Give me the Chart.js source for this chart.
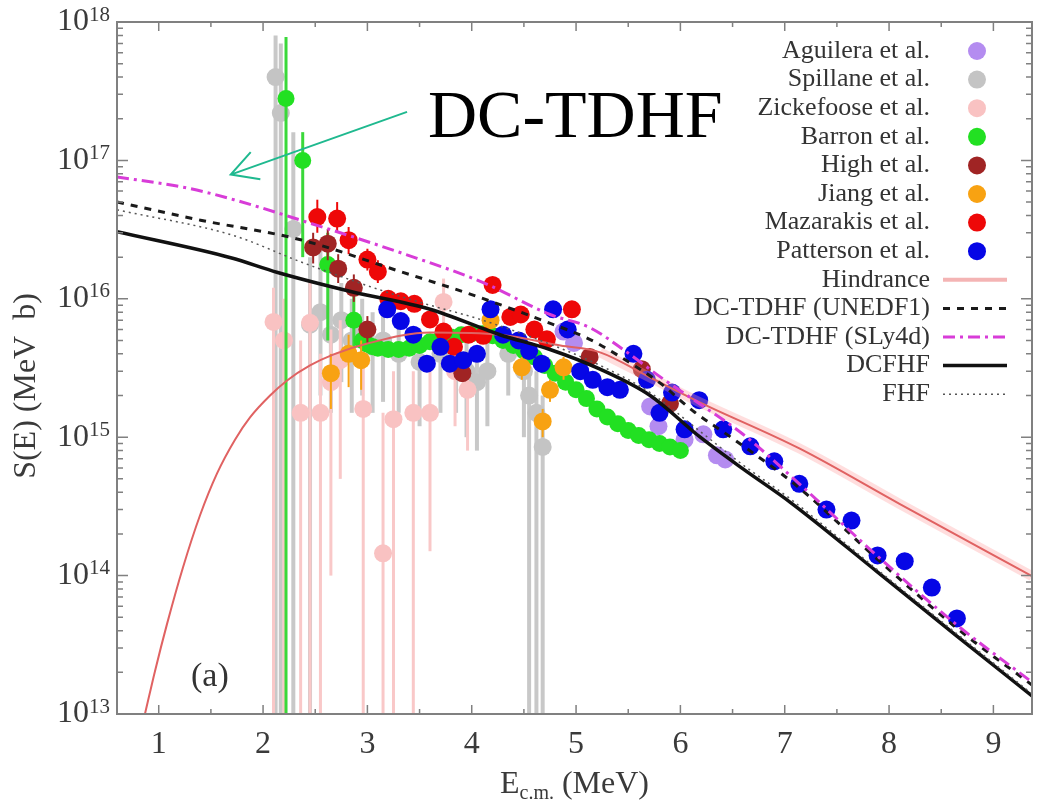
<!DOCTYPE html>
<html>
<head>
<meta charset="utf-8">
<title>S(E)</title>
<script src="https://cdn.jsdelivr.net/npm/chart.js@4.4.1/dist/chart.umd.min.js"></script>
<style>
    html, body { margin: 0; padding: 0; background: #fff; }
    canvas { display: block; }
</style>
</head>
<body>
<canvas id="grafica-se" width="1045" height="806"></canvas>
<script>
// Ejes
const xTicks = [1, 2, 3, 4, 5, 6, 7, 8, 9];
const yExponentes = [13, 14, 15, 16, 17, 18];

// Datos experimentales: E (MeV), S (MeV b), barras de error
const aguileraE = [4.88, 4.98, 5.71, 5.79, 6.04, 6.22, 6.35, 6.43];
const aguileraS = [5.8e15, 4.8e15, 1.67e15, 1.2e15, 9.6e14, 1.05e15, 7.4e14, 6.9e14];

const spillaneE = [2.12, 2.17, 2.29, 2.45, 2.55, 2.65, 2.75, 2.85, 2.95, 3.05, 3.15, 3.3, 3.5, 3.7, 3.85, 3.95, 4.05, 4.15, 4.35, 4.5, 4.55, 4.62, 4.68];
const spillaneS = [4.0e17, 2.2e17, 3.2e16, 6.5e15, 8.0e15, 5.5e15, 7.0e15, 5.0e15, 6.0e15, 4.5e15, 5.0e15, 4.0e15, 3.5e15, 4.0e15, 3.5e15, 3.0e15, 2.5e15, 3.0e15, 4.0e15, 3.0e15, 2.0e15, 1.5e15, 8.5e14];
const spillaneLo = [5e12, 5e12, 5e12, 5e12, 2e15, 1.5e15, 2.5e15, 1.5e15, 2e15, 1.5e15, 1.8e15, 1.5e15, 1.2e15, 1.5e15, 1.5e15, 1e15, 8e14, 1.2e15, 2e15, 1e15, 5e12, 5e12, 5e12];
const spillaneHi = [8e17, 7e17, 1.6e17, 2e16, 2.5e16, 1.2e16, 1.3e16, 1e16, 1e16, 8e15, 8e15, 7e15, 6e15, 6e15, 5.5e15, 5e15, 4.5e15, 5e15, 6e15, 5e15, 4e15, 3e15, 2e15];

const zickefooseE = [2.10, 2.20, 2.36, 2.45, 2.55, 2.65, 2.74, 2.96, 3.15, 3.25, 3.44, 3.60, 3.73, 3.84, 3.96];
const zickefooseS = [6.8e15, 5.0e15, 1.5e15, 6.7e15, 1.5e15, 2.5e15, 3.6e15, 1.6e15, 1.45e14, 1.35e15, 1.5e15, 1.5e15, 9.5e15, 3.0e15, 2.2e15];
const zickefooseLo = [5e12, 5e12, 5e12, 5e12, 5e12, 1e14, 5e14, 5e12, 5e12, 5e12, 5e12, 1.5e14, 5e15, 1.2e15, 8e14];
const zickefooseHi = [1.2e16, 1e16, 5e15, 1.3e16, 4e15, 6e15, 7e15, 4e15, 1.5e15, 3e15, 3e15, 3e15, 1.4e16, 5e15, 4e15];

const barronE = [2.22, 2.38, 2.62, 2.87, 2.95, 3.0, 3.05, 3.1, 3.2, 3.3, 3.4, 3.5, 3.6, 3.7, 3.8, 3.9, 4.0, 4.1, 4.2, 4.3, 4.4, 4.5, 4.6, 4.7, 4.8, 4.9, 5.0, 5.1, 5.2, 5.3, 5.4, 5.5, 5.6, 5.7, 5.8, 5.9, 6.0];
const barronS = [2.8e17, 1.0e17, 1.77e16, 7.0e15, 5.0e15, 4.7e15, 4.5e15, 4.4e15, 4.3e15, 4.3e15, 4.4e15, 4.6e15, 4.9e15, 5.1e15, 5.3e15, 5.5e15, 5.6e15, 5.6e15, 5.4e15, 5.0e15, 4.6e15, 4.2e15, 3.8e15, 3.3e15, 2.9e15, 2.5e15, 2.2e15, 1.9e15, 1.6e15, 1.4e15, 1.25e15, 1.12e15, 1.03e15, 9.6e14, 9.0e14, 8.5e14, 8.0e14];
const barronLo = [5e12, 2e16, 5e15, 4e15];
const barronHi = [7.8e17, 1.6e17, 3e16, 1.2e16];

const highE = [2.48, 2.62, 2.72, 2.87, 3.0, 3.91, 5.13, 5.63, 5.9];
const highS = [2.35e16, 2.5e16, 1.65e16, 1.2e16, 6.0e15, 2.9e15, 3.8e15, 3.1e15, 1.75e15];
const highLo = [1.8e16, 1.9e16, 1.3e16, 9.5e15, 4.8e15];
const highHi = [3.0e16, 3.2e16, 2.1e16, 1.5e16, 7.5e15];

const jiangE = [2.65, 2.82, 2.94, 4.18, 4.48, 4.68, 4.75, 4.88];
const jiangS = [2.9e15, 4.0e15, 3.6e15, 7.0e15, 3.2e15, 1.3e15, 2.2e15, 3.2e15];
const jiangLo = [1.6e15, 2.3e15, 2.2e15, null, 2.6e15, 1.0e15, 1.8e15, 2.6e15];
const jiangHi = [4.0e15, 5.5e15, 5.0e15, null, 3.8e15, 1.6e15, 2.6e15, 3.8e15];

const mazarakisE = [2.52, 2.71, 2.82, 3.0, 3.1, 3.2, 3.32, 3.45, 3.6, 3.73, 3.83, 3.97, 4.11, 4.2, 4.37, 4.47, 4.6, 4.72, 4.96];
const mazarakisS = [3.9e16, 3.8e16, 2.65e16, 1.92e16, 1.57e16, 1.0e16, 9.6e15, 9.2e15, 7.1e15, 5.8e15, 4.5e15, 5.5e15, 5.4e15, 1.26e16, 7.4e15, 7.7e15, 6.0e15, 5.1e15, 8.4e15];
const mazarakisLo = [3.0e16, 3.0e16, 2.1e16, 1.6e16, 1.3e16];
const mazarakisHi = [5.2e16, 5.0e16, 3.3e16, 2.3e16, 1.9e16];

const pattersonE = [3.19, 3.32, 3.44, 3.57, 3.70, 3.79, 3.92, 4.05, 4.18, 4.30, 4.45, 4.55, 4.67, 4.78, 4.92, 5.04, 5.16, 5.30, 5.42, 5.55, 5.68, 5.80, 5.92, 6.04, 6.18, 6.41, 6.67, 6.90, 7.14, 7.40, 7.64, 7.89, 8.15, 8.41, 8.65];
const pattersonS = [8.4e15, 6.9e15, 5.5e15, 3.4e15, 4.5e15, 3.4e15, 3.6e15, 4.0e15, 8.4e15, 5.5e15, 5.0e15, 4.2e15, 3.4e15, 8.4e15, 6.0e15, 3.0e15, 2.6e15, 2.3e15, 2.2e15, 4.0e15, 2.6e15, 1.5e15, 2.1e15, 1.14e15, 1.85e15, 1.14e15, 8.6e14, 6.7e14, 4.6e14, 3.0e14, 2.5e14, 1.4e14, 1.27e14, 8.2e13, 4.9e13];

// Curvas teoricas
const hindranceE = [0.868, 0.964, 1.079, 1.233, 1.396, 1.559, 1.731, 1.875, 2.067, 2.23, 2.45, 2.671, 3.0, 3.6, 4.27, 4.85, 5.23, 5.71, 6.19, 7.14, 8.1, 9.37];
const hindranceS = [1.0e13, 2.04e13, 4.46e13, 1.15e14, 2.73e14, 5.48e14, 9.6e14, 1.39e15, 2.0e15, 2.57e15, 3.3e15, 3.95e15, 4.75e15, 5.7e15, 5.5e15, 4.6e15, 4.1e15, 2.7e15, 1.78e15, 8.3e14, 3.3e14, 9.9e13];

const unedf1E = [0.6, 1.4, 2.36, 3.32, 4.05, 4.68, 5.13, 5.39, 5.8, 6.12, 6.5, 7.14, 7.89, 8.65, 9.37];
const unedf1S = [5.0e16, 3.7e16, 2.67e16, 1.57e16, 1.04e16, 6.97e15, 5.1e15, 3.95e15, 2.48e15, 1.55e15, 9.8e14, 4.3e14, 1.31e14, 4.17e13, 1.62e13];

const sly4dE = [0.6, 1.28, 1.72, 2.36, 3.32, 4.11, 4.75, 5.13, 5.49, 5.8, 6.19, 6.6, 7.14, 7.89, 8.65, 9.37];
const sly4dS = [7.6e16, 6.3e16, 5.2e16, 3.7e16, 2.15e16, 1.31e16, 7.7e15, 6.2e15, 4.1e15, 2.75e15, 1.73e15, 1.05e15, 4.6e14, 1.38e14, 4.4e13, 1.7e13];

const dcfhfE = [0.6, 1.69, 2.14, 2.84, 3.6, 4.27, 4.75, 5.23, 5.71, 6.19, 6.6, 7.05, 7.89, 8.65, 9.37];
const dcfhfS = [3.05e16, 1.98e16, 1.55e16, 1.13e16, 8.4e15, 5.5e15, 4.3e15, 3.1e15, 2.0e15, 1.0e15, 5.9e14, 3.4e14, 1.06e14, 3.66e13, 1.35e13];

const fhfE = [0.6, 1.72, 2.36, 3.12, 3.51, 4.08, 4.75, 5.23, 5.71, 6.19, 6.6, 7.05, 7.89, 8.65, 9.37];
const fhfS = [4.4e16, 2.86e16, 1.85e16, 1.16e16, 9.4e15, 7.1e15, 4.7e15, 3.3e15, 2.1e15, 1.1e15, 6.3e14, 3.6e14, 1.1e14, 3.8e13, 1.4e13];

// Anotacion (coordenadas de datos)
const flechaDesde = { x: 3.38, y: 2.24e17 };
const flechaHasta = { x: 1.69, y: 7.9e16 };
const textoAnotacion = { x: 3.58, y: 1.48e17, texto: "DC-TDHF" };
const etiquetaPanel = { x: 1.49, y: 1.85e13, texto: "(a)" };

const serif = '"Liberation Serif", "Times New Roman", serif';

function puntos(xs, ys) {
    return xs.map((x, i) => ({ x: x, y: ys[i] }));
}

function serieDatos(label, xs, ys, color, orden, lo, hi, colorBarra, anchoBarra, radio) {
    return {
        label: label,
        data: puntos(xs, ys),
        showLine: false,
        pointRadius: radio || 9,
        pointHoverRadius: radio || 9,
        pointBackgroundColor: color,
        pointBorderWidth: 0,
        order: orden,
        errLo: lo || null,
        errHi: hi || null,
        errColor: colorBarra,
        errWidth: anchoBarra,
        simbolo: "punto",
        colorLeyenda: color
    };
}

function serieCurva(label, xs, ys, color, ancho, dash, orden, colorLeyenda, anchoLeyenda) {
    return {
        label: label,
        data: puntos(xs, ys),
        showLine: true,
        pointRadius: 0,
        pointHoverRadius: 0,
        borderColor: color,
        borderWidth: ancho,
        borderDash: dash,
        cubicInterpolationMode: "monotone",
        order: orden,
        simbolo: label ? "linea" : null,
        colorLeyenda: colorLeyenda || color,
        anchoLeyenda: anchoLeyenda || ancho
    };
}

// Barras de error, dibujadas justo antes de los puntos de cada serie
const barrasError = {
    id: "barrasError",
    beforeDatasetDraw(chart, args) {
        const ds = chart.data.datasets[args.index];
        if (!ds.errLo) return;
        const { ctx, chartArea: a, scales: { x, y } } = chart;
        ctx.save();
        ctx.beginPath();
        ctx.rect(a.left, a.top, a.right - a.left, a.bottom - a.top);
        ctx.clip();
        ctx.strokeStyle = ds.errColor;
        ctx.lineWidth = ds.errWidth;
        ds.data.forEach((p, i) => {
            const lo = ds.errLo[i], hi = ds.errHi[i];
            if (lo == null || hi == null) return;
            const px = x.getPixelForValue(p.x);
            ctx.beginPath();
            ctx.moveTo(px, y.getPixelForValue(lo));
            ctx.lineTo(px, y.getPixelForValue(hi));
            ctx.stroke();
        });
        ctx.restore();
    }
};

// Marco, marcas hacia dentro, etiquetas y anotacion
const marco = {
    id: "marco",
    afterDatasetsDraw(chart) {
        const { ctx, chartArea: a, scales: { x, y } } = chart;
        ctx.save();

        // flecha y texto grande
        const x0 = x.getPixelForValue(flechaDesde.x), y0 = y.getPixelForValue(flechaDesde.y);
        const x1 = x.getPixelForValue(flechaHasta.x), y1 = y.getPixelForValue(flechaHasta.y);
        const ang = Math.atan2(y1 - y0, x1 - x0);
        ctx.strokeStyle = "#1fb98f";
        ctx.lineWidth = 2;
        ctx.beginPath();
        ctx.moveTo(x0, y0);
        ctx.lineTo(x1, y1);
        ctx.moveTo(x1 - 30 * Math.cos(ang - 0.5), y1 - 30 * Math.sin(ang - 0.5));
        ctx.lineTo(x1, y1);
        ctx.lineTo(x1 - 30 * Math.cos(ang + 0.5), y1 - 30 * Math.sin(ang + 0.5));
        ctx.stroke();

        ctx.fillStyle = "#000";
        ctx.font = "68px " + serif;
        ctx.textAlign = "left";
        ctx.textBaseline = "alphabetic";
        ctx.fillText(textoAnotacion.texto, x.getPixelForValue(textoAnotacion.x), y.getPixelForValue(textoAnotacion.y));

        ctx.fillStyle = "#333";
        ctx.font = "34px " + serif;
        ctx.textAlign = "center";
        ctx.textBaseline = "middle";
        ctx.fillText(etiquetaPanel.texto, x.getPixelForValue(etiquetaPanel.x), y.getPixelForValue(etiquetaPanel.y));

        // marco
        ctx.strokeStyle = "#808080";
        ctx.lineWidth = 2;
        ctx.strokeRect(a.left, a.top, a.right - a.left, a.bottom - a.top);

        ctx.lineWidth = 1.5;
        ctx.beginPath();
        for (let v = 1; v <= 9; v += 0.5) {
            const px = x.getPixelForValue(v);
            const largo = Number.isInteger(v) ? 9 : 5;
            ctx.moveTo(px, a.bottom); ctx.lineTo(px, a.bottom - largo);
            ctx.moveTo(px, a.top); ctx.lineTo(px, a.top + largo);
        }
        yExponentes.forEach(e => {
            for (let m = 1; m <= 9; m++) {
                if (e === 18 && m > 1) break;
                const py = y.getPixelForValue(m * Math.pow(10, e));
                const largo = m === 1 ? 11 : 6;
                ctx.moveTo(a.left, py); ctx.lineTo(a.left + largo, py);
                ctx.moveTo(a.right, py); ctx.lineTo(a.right - largo, py);
            }
        });
        ctx.stroke();

        // etiquetas eje x
        ctx.fillStyle = "#3a3a3a";
        ctx.font = "32px " + serif;
        ctx.textAlign = "center";
        ctx.textBaseline = "middle";
        xTicks.forEach(v => ctx.fillText(String(v), x.getPixelForValue(v), a.bottom + 31));

        // etiquetas eje y: 10 con exponente
        yExponentes.forEach(e => {
            const py = y.getPixelForValue(Math.pow(10, e));
            ctx.font = "21px " + serif;
            ctx.textAlign = "right";
            ctx.fillText(String(e), a.left - 7, py - 7);
            const w = ctx.measureText(String(e)).width;
            ctx.font = "32px " + serif;
            ctx.fillText("10", a.left - 7 - w, py);
        });

        // titulo eje x con subindice
        const cx = (a.left + a.right) / 2, cy = a.bottom + 71;
        ctx.textAlign = "left";
        ctx.font = "32px " + serif;
        const wE = ctx.measureText("E").width;
        const wMeV = ctx.measureText(" (MeV)").width;
        ctx.font = "20px " + serif;
        const wSub = ctx.measureText("c.m.").width;
        let px = cx - (wE + wSub + wMeV) / 2;
        ctx.font = "32px " + serif;
        ctx.fillText("E", px, cy);
        px += wE;
        ctx.font = "20px " + serif;
        ctx.fillText("c.m.", px, cy + 9);
        px += wSub;
        ctx.font = "32px " + serif;
        ctx.fillText(" (MeV)", px, cy);

        // titulo eje y
        ctx.translate(27, 386);
        ctx.rotate(-Math.PI / 2);
        ctx.textAlign = "center";
        ctx.fillText("S(E) (MeV  b)", 0, 0);
        ctx.restore();
    }
};

// Leyenda a la derecha, texto alineado a la derecha y simbolo despues
const leyenda = {
    id: "leyenda",
    afterDraw(chart) {
        const { ctx, chartArea: a } = chart;
        ctx.save();
        ctx.font = "26px " + serif;
        ctx.textAlign = "right";
        ctx.textBaseline = "middle";
        chart.data.datasets.filter(d => d.simbolo).forEach((d, i) => {
            const yy = a.top + 29 + i * 28.6;
            ctx.fillStyle = "#333";
            ctx.fillText(d.label, a.right - 102, yy);
            if (d.simbolo === "punto") {
                ctx.fillStyle = d.colorLeyenda;
                ctx.beginPath();
                ctx.arc(a.right - 55, yy, 9, 0, 2 * Math.PI);
                ctx.fill();
            } else {
                ctx.strokeStyle = d.colorLeyenda;
                ctx.lineWidth = d.anchoLeyenda;
                ctx.setLineDash(d.borderDash || []);
                ctx.beginPath();
                ctx.moveTo(a.right - 89, yy);
                ctx.lineTo(a.right - 25, yy);
                ctx.stroke();
                ctx.setLineDash([]);
            }
        });
        ctx.restore();
    }
};

const datasets = [
    serieDatos("Aguilera et al.", aguileraE, aguileraS, "#b48cf0", 20),
    serieDatos("Spillane et al.", spillaneE, spillaneS, "#c4c4c4", 19, spillaneLo, spillaneHi, "#c8c8c8", 4),
    serieDatos("Zickefoose et al.", zickefooseE, zickefooseS, "#f9c2c2", 18, zickefooseLo, zickefooseHi, "#f9c8c8", 3),
    serieDatos("Barron et al.", barronE, barronS, "#22e022", 17, barronLo, barronHi, "#3ad83a", 3, 8.5),
    serieDatos("High et al.", highE, highS, "#a02424", 16, highLo, highHi, "#a02424", 2),
    serieDatos("Jiang et al.", jiangE, jiangS, "#f8a212", 15, jiangLo, jiangHi, "#f8a212", 2),
    serieDatos("Mazarakis et al.", mazarakisE, mazarakisS, "#ee0808", 14, mazarakisLo, mazarakisHi, "#ee0808", 2),
    serieDatos("Patterson et al.", pattersonE, pattersonS, "#0606e6", 13),
    serieCurva("Hindrance", hindranceE, hindranceS, "#e06262", 2, [], 12, "#f4b4b4", 4),
    serieCurva("DC-TDHF (UNEDF1)", unedf1E, unedf1S, "#1a1a1a", 3, [7, 7], 11),
    serieCurva("DC-TDHF (SLy4d)", sly4dE, sly4dS, "#d83cd8", 3, [12, 5, 3, 5], 10),
    serieCurva("DCFHF", dcfhfE, dcfhfS, "#111111", 3.5, [], 9),
    serieCurva("FHF", fhfE, fhfS, "#555555", 1.5, [2, 4], 8),
    // banda de incertidumbre del Hindrance
    serieCurva(null, hindranceE.slice(16), hindranceS.slice(16), "rgba(255,160,160,0.35)", 10, [], 12.5)
];

new Chart(document.getElementById("grafica-se"), {
    type: "scatter",
    data: { datasets: datasets },
    options: {
        responsive: false,
        animation: false,
        devicePixelRatio: 1,
        layout: { padding: { left: 117, right: 13, top: 22, bottom: 92 } },
        scales: {
            x: { type: "linear", min: 0.6, max: 9.37, display: false },
            y: { type: "logarithmic", min: 1e13, max: 1e18, display: false }
        },
        plugins: {
            legend: { display: false },
            tooltip: { enabled: false }
        }
    },
    plugins: [barrasError, marco, leyenda]
});
</script>
</body>
</html>
